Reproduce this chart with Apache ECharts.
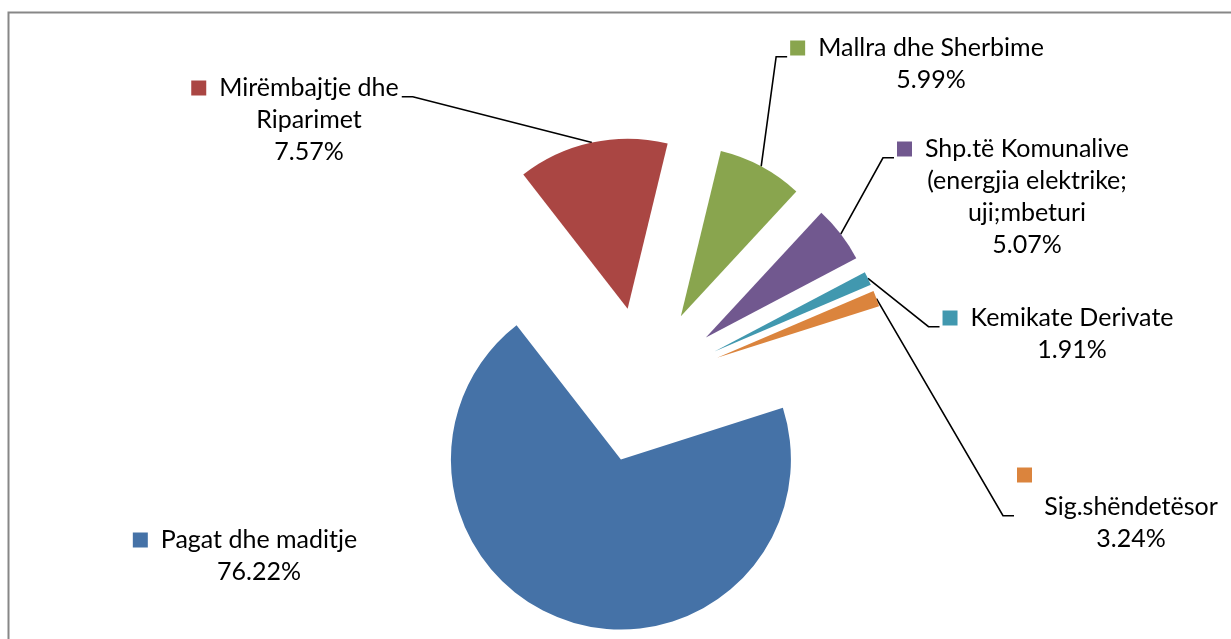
<!DOCTYPE html>
<html><head><meta charset="utf-8">
<script src="https://cdn.jsdelivr.net/npm/echarts@6/dist/echarts.min.js"></script>
<style>html,body{margin:0;padding:0;background:#fff}#c{width:1231px;height:639px}</style>
</head><body><div id="c"></div>
<script>
// ---- data ----
const categories = [
  'Pagat dhe maditje',
  'Mirëmbajtje dhe Riparimet',
  'Mallra dhe Sherbime',
  'Shp.të Komunalive (energjia elektrike; uji;mbeturi',
  'Kemikate Derivate',
  'Sig.shëndetësor'
];
// slice sizes as drawn
const sliceValues = [69.4, 14.3, 8.1, 5.4, 1.3, 1.5];
// percentages printed in the data labels
const labelPercents = [76.22, 7.57, 5.99, 5.07, 1.91, 3.24];
// label text broken into lines as shown
const labelTextLines = [
  ['Pagat dhe maditje'],
  ['Mirëmbajtje dhe', 'Riparimet'],
  ['Mallra dhe Sherbime'],
  ['Shp.të Komunalive', '(energjia elektrike;', 'uji;mbeturi'],
  ['Kemikate Derivate'],
  ['', 'Sig.shëndetësor']
];

// ---- styles / layout ----
const colors = ['#4572A7', '#AA4643', '#89A54E', '#71588F', '#4198AF', '#DB843D'];
const labelCenters = [[259, 556], [309, 120], [931, 64], [1027, 197], [1072, 334], [1131, 507]];
const firstLinePad = [28, 28, 28, 28, 28, 200];
const showLeader = [false, true, true, true, true, true];
const PIE_CENTER = [644, 385];
const PIE_RADIUS = 170;
const START_ANGLE = 17.7;
const EXPLODE = 78;
const FONT = 'Lato';
const FS = 25, LH = 32;
const KEY = 15, GAP = 13, STUB = 11, STUB_GAP = 3;

const ctx = document.createElement('canvas').getContext('2d');
ctx.font = FS + 'px ' + FONT;
const textW = s => s ? ctx.measureText(s).width : 0;

const rich = { gap: { width: GAP, lineHeight: LH } };
colors.forEach((c, i) => {
  rich['k' + i] = { width: KEY, height: KEY, backgroundColor: c, lineHeight: LH };
  rich['p' + i] = { width: firstLinePad[i], lineHeight: LH };
});

function labelText(i) {
  const lines = labelTextLines[i];
  const first = '{k' + i + '|}{gap|}' + lines[0] + '{p' + i + '|}';
  return [first].concat(lines.slice(1)).concat([labelPercents[i].toFixed(2) + '%']).join('\n');
}

// explode every slice outward along its bisector (Excel "point explosion")
const total = sliceValues.reduce((a, b) => a + b, 0);
let cum = 0;
const series = sliceValues.map((v, i) => {
  const midDeg = START_ANGLE - (cum + v / 2) / total * 360;
  cum += v;
  const rad = midDeg * Math.PI / 180;
  const cx = PIE_CENTER[0] + Math.cos(rad) * EXPLODE;
  const cy = PIE_CENTER[1] - Math.sin(rad) * EXPLODE;
  return {
    type: 'pie',
    name: categories[i],
    center: [cx, cy],
    radius: PIE_RADIUS,
    startAngle: START_ANGLE,
    clockwise: true,
    avoidLabelOverlap: false,
    silent: true,
    z: 2 + i,
    itemStyle: { borderWidth: 0 },
    emphasis: { disabled: true },
    label: {
      position: 'outside', color: '#000',
      fontFamily: FONT, fontSize: FS, lineHeight: LH, align: 'center', rich: rich
    },
    labelLine: { length: 10, length2: 10, smooth: false, lineStyle: { color: '#000', width: 1.6 } },
    labelLayout: function (p) {
      const c = labelCenters[i];
      const out = { x: c[0], y: c[1], align: 'center', verticalAlign: 'middle', hideOverlap: false };
      const pts = p.labelLinePoints;
      if (pts && showLeader[i]) {
        const lines = labelTextLines[i];
        const top = c[1] - p.labelRect.height / 2;
        let f = 0;
        while (f < lines.length && !lines[f]) f++;
        const ay = top + LH * f + LH / 2 + FS * 0.35;
        const anchor = pts[0];
        const firstW = KEY + GAP + textW(lines[0]) + firstLinePad[i];
        let ax, sx;
        if (anchor[0] > c[0]) { // label left of slice: attach at right of first text line
          ax = c[0] - firstW / 2 + KEY + GAP + textW(lines[0]) + STUB_GAP;
          sx = ax + STUB;
        } else { // label right of slice: attach left of the key
          ax = c[0] - firstW / 2 - STUB_GAP;
          sx = ax - STUB;
        }
        out.labelLinePoints = [[anchor[0], anchor[1]], [sx, ay], [ax, ay]];
      }
      return out;
    },
    data: categories.map((name, j) => ({
      name: name,
      value: sliceValues[j],
      itemStyle: { color: j === i ? colors[j] : 'rgba(0,0,0,0)' },
      label: { show: j === i, formatter: () => labelText(j) },
      labelLine: { show: j === i && showLeader[j] }
    }))
  };
});

const chart = echarts.init(document.getElementById('c'));
chart.setOption({
  animation: false,
  backgroundColor: '#fff',
  graphic: [{
    type: 'polyline', silent: true,
    shape: { points: [[8.5, 650], [8.5, 12.5], [1240, 12.5]] },
    style: { stroke: '#878787', lineWidth: 2, fill: null }
  }],
  series: series
});
</script></body></html>
